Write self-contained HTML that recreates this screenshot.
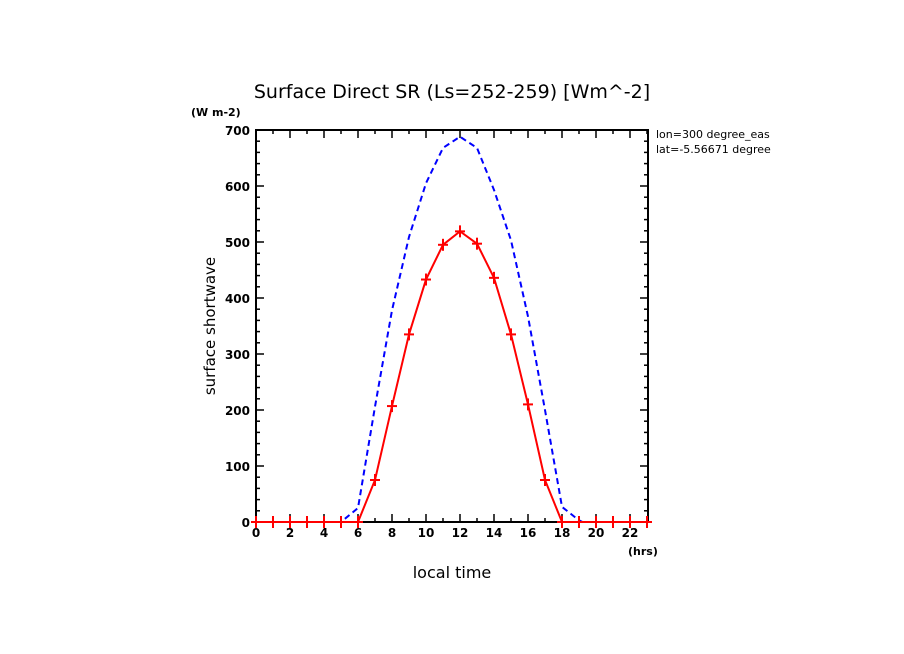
<!DOCTYPE html>
<html><head><style>body{margin:0;background:#fff}svg{display:block}text{font-family:"DejaVu Sans","Liberation Sans",sans-serif}</style></head>
<body>
<svg width="904" height="654" viewBox="0 0 904 654" xmlns="http://www.w3.org/2000/svg">
<text x="452" y="98" font-size="19" text-anchor="middle">Surface Direct SR (Ls=252-259) [Wm^-2]</text>
<text x="191" y="116" font-size="11" font-weight="bold">(W m-2)</text>
<text x="656" y="138" font-size="11">lon=300 degree_eas</text>
<text x="656" y="153" font-size="11">lat=-5.56671 degree</text>
<rect x="256" y="130" width="392" height="392" fill="none" stroke="#000" stroke-width="2"/>
<g stroke="#000" stroke-width="1.5" id="t"></g>
<g font-size="12" font-weight="bold" text-anchor="end" id="yl"></g>
<g font-size="12" font-weight="bold" text-anchor="middle" id="xl"></g>
<text x="628" y="555" font-size="11" font-weight="bold">(hrs)</text>
<text x="452" y="578" font-size="16" text-anchor="middle">local time</text>
<text x="0" y="0" font-size="15" text-anchor="middle" transform="translate(215,326) rotate(-90)">surface shortwave</text>
<polyline id="blue" fill="none" stroke="#0000ff" stroke-width="2" stroke-dasharray="6,4"/>
<polyline id="red" fill="none" stroke="#ff0000" stroke-width="2"/>
<g id="m" stroke="#ff0000" stroke-width="2"></g>
<script>
var ns="http://www.w3.org/2000/svg";
function X(h){return 256+17*h} function Y(v){return 522-v*0.56}
function el(p,n,a,t){var e=document.createElementNS(ns,n);for(var k in a)e.setAttribute(k,a[k]);if(t!==undefined)e.textContent=String(t);document.getElementById(p).appendChild(e);}
for(var h=0;h<=23;h++){var l=h%2==0?8:4;el('t','line',{x1:X(h),x2:X(h),y1:522,y2:522-l});el('t','line',{x1:X(h),x2:X(h),y1:130,y2:130+l});if(h%2==0&&h<23)el('xl','text',{x:X(h),y:537},h);}
for(var v=0;v<=700;v+=20){var l=v%100==0?8:4;el('t','line',{x1:256,x2:256+l,y1:Y(v),y2:Y(v)});el('t','line',{x1:648,x2:648-l,y1:Y(v),y2:Y(v)});if(v%100==0)el('yl','text',{x:250,y:Y(v)+5},v);}
var b=[[0,0],[5,0],[6,25],[7,206],[8,378],[9,509],[10,605],[11,668],[12,688],[13,668],[14,593],[15,503],[16,367],[17,200],[18,27],[19,3],[19.2,0],[23,0]];
var r=[0,0,0,0,0,0,0,75,207,335,433,495,519,497,436,335,210,75,0,0,0,0,0,0];
document.getElementById('blue').setAttribute('points',b.map(function(p){return X(p[0])+','+Y(p[1])}).join(' '));
document.getElementById('red').setAttribute('points',r.map(function(v,i){return X(i)+','+Y(v)}).join(' '));
r.forEach(function(v,i){el('m','line',{x1:X(i)-5,x2:X(i)+5,y1:Y(v),y2:Y(v)});el('m','line',{x1:X(i),x2:X(i),y1:Y(v)-6,y2:Y(v)+6});});
</script>
</svg>
</body></html>
